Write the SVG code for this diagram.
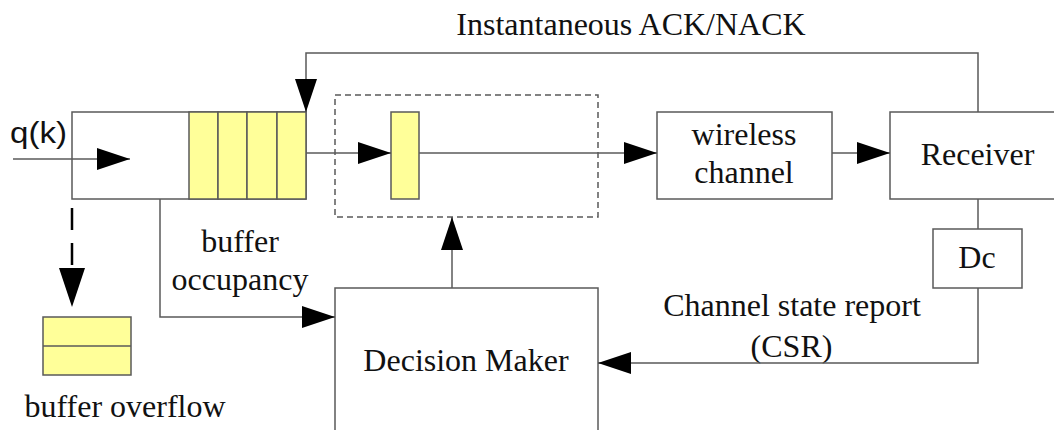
<svg xmlns="http://www.w3.org/2000/svg" width="1054" height="430" viewBox="0 0 1054 430">
  <style>
    .box { fill: #ffffff; stroke: #5a5a5a; stroke-width: 1.5; }
    .cell { fill: #ffff99; stroke: #5a5a5a; stroke-width: 1.5; }
    .dash { fill: none; stroke: #5a5a5a; stroke-width: 1.5; stroke-dasharray: 6 4; }
    .wire { fill: none; stroke: #5a5a5a; stroke-width: 1.5; }
    .serif { font-family: "Liberation Serif", "Times New Roman", serif; font-size: 32px; fill: #111; text-anchor: middle; }
    .sans { font-family: "Liberation Sans", Arial, sans-serif; font-size: 29px; fill: #111; }
  </style>
  <defs>
    <marker id="arr" markerUnits="userSpaceOnUse" markerWidth="34" markerHeight="22" refX="33" refY="11" orient="auto">
      <path d="M0,0 L33,11 L0,22 z" fill="#000"/>
    </marker>
    <marker id="arrBig" markerUnits="userSpaceOnUse" markerWidth="40" markerHeight="26" refX="39" refY="13" orient="auto">
      <path d="M0,0 L39,13 L0,26 z" fill="#000"/>
    </marker>
  </defs>

  <rect width="1054" height="430" fill="#ffffff"/>

  <g id="queue">
    <rect class="box" x="72" y="112" width="234" height="87"/>
    <rect class="cell" x="189" y="112" width="29" height="87"/>
    <rect class="cell" x="218" y="112" width="29" height="87"/>
    <rect class="cell" x="247" y="112" width="30" height="87"/>
    <rect class="cell" x="277" y="112" width="29" height="87"/>
  </g>

  <g id="input-label">
    <text class="sans" x="10" y="143" textLength="57" lengthAdjust="spacingAndGlyphs">q(k)</text>
  </g>

  <g id="transmitter">
    <rect class="dash" x="335" y="95" width="263" height="122"/>
    <rect class="cell" x="391" y="112" width="28" height="87"/>
  </g>

  <g id="wireless-channel">
    <rect class="box" x="657" y="112" width="175" height="87"/>
    <text class="serif" x="744" y="145">wireless</text>
    <text class="serif" x="744" y="183">channel</text>
  </g>

  <g id="receiver">
    <rect class="box" x="890" y="112" width="176" height="87"/>
    <text class="serif" x="977.5" y="165">Receiver</text>
  </g>

  <g id="dc">
    <rect class="box" x="933" y="229" width="89" height="59"/>
    <text class="serif" x="977" y="268">Dc</text>
  </g>

  <g id="decision-maker">
    <rect class="box" x="335" y="288" width="263" height="170"/>
    <text class="serif" x="466" y="371">Decision Maker</text>
  </g>

  <g id="overflow">
    <rect class="cell" x="43" y="317" width="88" height="58"/>
    <line class="wire" x1="43" y1="346" x2="131" y2="346"/>
    <text class="serif" x="125" y="417">buffer overflow</text>
  </g>

  <g id="labels">
    <text class="serif" x="631" y="35">Instantaneous ACK/NACK</text>
    <text class="serif" x="240" y="252">buffer</text>
    <text class="serif" x="240" y="290">occupancy</text>
    <text class="serif" x="792" y="316">Channel state report</text>
    <text class="serif" x="791.5" y="357">(CSR)</text>
  </g>

  <g id="connectors">
    <line class="wire" x1="13" y1="159" x2="130" y2="159" marker-end="url(#arr)"/>
    <line class="wire" x1="306" y1="153" x2="391" y2="153" marker-end="url(#arr)"/>
    <line class="wire" x1="419" y1="153" x2="657" y2="153" marker-end="url(#arr)"/>
    <line class="wire" x1="832" y1="153" x2="890" y2="153" marker-end="url(#arr)"/>
    <path class="wire" d="M978,112 V53 H306 V112" marker-end="url(#arr)"/>
    <line class="wire" x1="978" y1="199" x2="978" y2="229"/>
    <path class="wire" d="M978,288 V363 H598" marker-end="url(#arr)"/>
    <path class="wire" d="M160,199 V317 H335" marker-end="url(#arr)"/>
    <line class="wire" x1="452" y1="288" x2="452" y2="217" marker-end="url(#arr)"/>
    <line x1="72" y1="208" x2="72" y2="307" stroke="#000" stroke-width="2.5" stroke-dasharray="22 13" marker-end="url(#arrBig)"/>
  </g>
</svg>
